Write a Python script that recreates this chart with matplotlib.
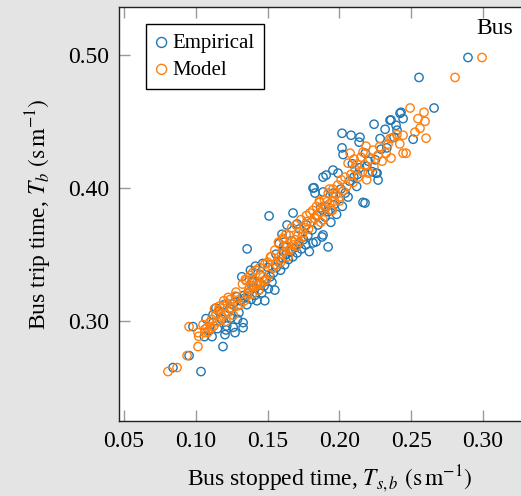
import matplotlib
matplotlib.use("Agg")
import matplotlib.pyplot as plt
from matplotlib.ticker import FormatStrFormatter

# Empirical bus data (stopped time, trip time) in s/m
emp_x = [0.0841, 0.0953, 0.0980, 0.1036, 0.1071, 0.1060, 0.1090,
         0.1113, 0.1189, 0.1203, 0.1273, 0.1329, 0.1329, 0.1150, 0.1180, 0.1215, 0.1245, 0.1260, 0.1120,
         0.1160, 0.1235, 0.1290, 0.1300, 0.1195, 0.1270, 0.1140, 0.1310, 0.1210,
         0.1340, 0.1355, 0.1370, 0.1385, 0.1398, 0.1410, 0.1425, 0.1440, 0.1450, 0.1460, 0.1475, 0.1490,
         0.1505, 0.1518, 0.1530, 0.1357, 0.1320, 0.1380, 0.1415, 0.1465, 0.1540, 0.1480, 0.1395, 0.1550,
         0.1560, 0.1575, 0.1590, 0.1605, 0.1618, 0.1630, 0.1645, 0.1660, 0.1675, 0.1690, 0.1705, 0.1720,
         0.1735, 0.1750, 0.1765, 0.1780, 0.1510, 0.1635, 0.1677, 0.1705, 0.1600, 0.1580, 0.1816, 0.1790,
         0.1823, 0.1830, 0.1886, 0.1955, 0.1886, 0.1907, 0.1955, 0.1990, 0.1816, 0.1809, 0.1879, 0.1921,
         0.1837, 0.1886, 0.1850, 0.1900, 0.1940, 0.1980, 0.2020, 0.2060, 0.1960, 0.2040, 0.1920, 0.1870,
         0.2164, 0.2178, 0.2269, 0.2255, 0.2018, 0.2025, 0.2081, 0.2018, 0.2137, 0.2143, 0.2241, 0.2100,
         0.2140, 0.2200, 0.2120, 0.2230, 0.2262, 0.2180, 0.2290, 0.2090, 0.2283,
         0.2318, 0.2352, 0.2359, 0.2394, 0.2401, 0.2422, 0.2429, 0.2443, 0.2513, 0.2659, 0.2330, 0.2380,
         0.1255, 0.1335, 0.1392, 0.1448, 0.1502, 0.1558, 0.1612, 0.1668, 0.1722, 0.1770, 0.1842, 0.1902,
         0.1958, 0.2010, 0.2070, 0.2125, 0.2190, 0.2250, 0.1285, 0.1610,
         0.2554, 0.2895]
emp_y = [0.2647, 0.2737, 0.2955, 0.2617, 0.3015, 0.2880, 0.2925,
         0.2880, 0.2805, 0.2895, 0.2910, 0.2947, 0.2985, 0.2940, 0.3010, 0.2960, 0.3020, 0.2950, 0.3045,
         0.3070, 0.3090, 0.3010, 0.3060, 0.3120, 0.3140, 0.3095, 0.3150, 0.2930,
         0.3170, 0.3120, 0.3210, 0.3160, 0.3245, 0.3190, 0.3150, 0.3230, 0.3280, 0.3210, 0.3260, 0.3310,
         0.3240, 0.3330, 0.3290, 0.3540, 0.3330, 0.3380, 0.3410, 0.3430, 0.3360, 0.3150, 0.3300, 0.3230,
         0.3400, 0.3445, 0.3380, 0.3470, 0.3420, 0.3500, 0.3460, 0.3520, 0.3480, 0.3550, 0.3510, 0.3580,
         0.3540, 0.3610, 0.3570, 0.3640, 0.3788, 0.3720, 0.3810, 0.3728, 0.3650, 0.3580, 0.3585, 0.3520,
         0.4000, 0.3960, 0.3968, 0.3960, 0.4080, 0.4095, 0.4133, 0.4110, 0.3998, 0.3683, 0.3630, 0.3555,
         0.3593, 0.3645, 0.3720, 0.3780, 0.3740, 0.3800, 0.3860, 0.3930, 0.3870, 0.3960, 0.3820, 0.3850,
         0.3890, 0.3885, 0.4058, 0.4110, 0.4300, 0.4250, 0.4395, 0.4410, 0.4343, 0.4380, 0.4478, 0.4080,
         0.4150, 0.4200, 0.4010, 0.4120, 0.4110, 0.4260, 0.4290, 0.4180, 0.4370,
         0.4440, 0.4508, 0.4510, 0.4470, 0.4433, 0.4560, 0.4568, 0.4520, 0.4365, 0.4600, 0.4300, 0.4380,
         0.3125, 0.3190, 0.3290, 0.3345, 0.3400, 0.3500, 0.3560, 0.3600, 0.3690, 0.3720, 0.3790, 0.3860,
         0.3935, 0.3990, 0.4050, 0.4100, 0.4160, 0.4210, 0.3180, 0.3520,
         0.4830, 0.4980]

# Model output
mod_x = [0.0806, 0.0869, 0.0939, 0.0953, 0.1015, 0.1015, 0.1020, 0.1050, 0.1064, 0.1085, 0.1078, 0.1095, 0.1062,
         0.1110, 0.1125, 0.1140, 0.1150, 0.1158, 0.1170, 0.1178, 0.1190, 0.1200, 0.1210, 0.1218, 0.1230,
         0.1240, 0.1248, 0.1262, 0.1275, 0.1288, 0.1130, 0.1165, 0.1105, 0.1195, 0.1225, 0.1280,
         0.1310, 0.1325, 0.1338, 0.1350, 0.1362, 0.1370, 0.1377, 0.1385, 0.1392, 0.1400, 0.1410, 0.1418,
         0.1425, 0.1438, 0.1445, 0.1455, 0.1468, 0.1480, 0.1490, 0.1500, 0.1512, 0.1525, 0.1538, 0.1345,
         0.1395, 0.1360, 0.1430, 0.1470, 0.1520,
         0.1550, 0.1562, 0.1575, 0.1588, 0.1598, 0.1610, 0.1620, 0.1628, 0.1635, 0.1642, 0.1650, 0.1660,
         0.1668, 0.1678, 0.1688, 0.1698, 0.1710, 0.1720, 0.1732, 0.1745, 0.1758, 0.1770, 0.1774, 0.1785,
         0.1795, 0.1605, 0.1655, 0.1700, 0.1740, 0.1590,
         0.1805, 0.1815, 0.1828, 0.1840, 0.1850, 0.1862, 0.1872, 0.1885, 0.1895, 0.1905, 0.1914, 0.1922,
         0.1932, 0.1942, 0.1955, 0.1965, 0.1975, 0.1988, 0.2000, 0.2012, 0.2025, 0.2038, 0.2050, 0.1870,
         0.1950, 0.2000, 0.1860, 0.1930,
         0.2074, 0.2102, 0.2123, 0.2150, 0.2178, 0.2213, 0.2164, 0.2060, 0.2185, 0.2234, 0.2269, 0.2297,
         0.2338, 0.2359, 0.2095, 0.2080, 0.2130, 0.2160, 0.2200, 0.2240, 0.2110, 0.2190, 0.2325, 0.2280,
         0.2352, 0.2366, 0.2443, 0.2464, 0.2492, 0.2526, 0.2547, 0.2589, 0.2596, 0.2561, 0.2603, 0.2443,
         0.2400, 0.2420,
         0.2805, 0.2993]
mod_y = [0.2617, 0.2647, 0.2737, 0.2955, 0.2805, 0.2910, 0.2882, 0.2970, 0.2910, 0.2912, 0.2948, 0.2985, 0.2935,
         0.3010, 0.2960, 0.3045, 0.2990, 0.3080, 0.3000, 0.3025, 0.3110, 0.3050, 0.2995, 0.3130, 0.3065,
         0.3160, 0.3095, 0.3040, 0.3185, 0.3110, 0.3090, 0.3110, 0.2940, 0.3150, 0.3175, 0.3215,
         0.3120, 0.3275, 0.3150, 0.3300, 0.3210, 0.3235, 0.3340, 0.3265, 0.3200, 0.3310, 0.3255, 0.3380,
         0.3285, 0.3230, 0.3400, 0.3275, 0.3330, 0.3425, 0.3305, 0.3440, 0.3350, 0.3480, 0.3395, 0.3310,
         0.3360, 0.3190, 0.3270, 0.3300, 0.3480,
         0.3530, 0.3420, 0.3590, 0.3460, 0.3500, 0.3610, 0.3520, 0.3650, 0.3560, 0.3480, 0.3640, 0.3545,
         0.3700, 0.3570, 0.3610, 0.3720, 0.3640, 0.3590, 0.3760, 0.3660, 0.3700, 0.3790, 0.3745, 0.3690,
         0.3810, 0.3620, 0.3530, 0.3560, 0.3630, 0.3440,
         0.3740, 0.3830, 0.3770, 0.3860, 0.3795, 0.3890, 0.3820, 0.3760, 0.3910, 0.3850, 0.3895, 0.3960,
         0.3880, 0.3830, 0.3990, 0.3900, 0.3950, 0.4020, 0.3930, 0.4060, 0.3975, 0.4080, 0.4010, 0.3740,
         0.3830, 0.3900, 0.3900, 0.3990,
         0.4260, 0.4215, 0.4178, 0.4230, 0.4170, 0.4215, 0.4268, 0.4185, 0.4313, 0.4283, 0.4245, 0.4200,
         0.4328, 0.4223, 0.4040, 0.4100, 0.4080, 0.4120, 0.4110, 0.4160, 0.4140, 0.4060, 0.4260, 0.4310,
         0.4370, 0.4373, 0.4395, 0.4260, 0.4600, 0.4418, 0.4520, 0.4568, 0.4500, 0.4448, 0.4373, 0.4260,
         0.4400, 0.4330,
         0.4830, 0.4980]

x_ticks = [0.05, 0.10, 0.15, 0.20, 0.25, 0.30]
y_ticks = [0.30, 0.40, 0.50]

plt.rcParams['font.family'] = ['Liberation Serif', 'DejaVu Serif']
plt.rcParams['mathtext.fontset'] = 'stix'

fig = plt.figure(figsize=(5.21, 4.96), dpi=100, facecolor='#e4e4e4')
ax = fig.add_axes([119 / 521, 75 / 496, 421.5 / 521, 414 / 496])
ax.set_facecolor('white')

ax.scatter(emp_x, emp_y, s=36, facecolors='none', edgecolors='#1f77b4', linewidths=1.0, label='Empirical')
ax.scatter(mod_x, mod_y, s=36, facecolors='none', edgecolors='#ff7f0e', linewidths=1.0, label='Model')

ax.set_xlim(0.0465, 0.34)
ax.set_ylim(0.2245, 0.536)
ax.set_xticks(x_ticks)
ax.set_yticks(y_ticks)
ax.xaxis.set_major_formatter(FormatStrFormatter('%.2f'))
ax.yaxis.set_major_formatter(FormatStrFormatter('%.2f'))
ax.tick_params(direction='in', length=8, width=1, color='#999999', labelsize=17,
               top=True, right=False, pad=7)
for side in ['left', 'bottom', 'top', 'right']:
    ax.spines[side].set_color('#222222')
    ax.spines[side].set_linewidth(1.0)

ax.set_xlabel(r'Bus stopped time, $T_{s,b}$ $(\mathrm{s\,m^{-1}})$', fontsize=17, labelpad=8)
ax.set_ylabel(r'Bus trip time, $T_b$ $(\mathrm{s\,m^{-1}})$', fontsize=17, labelpad=10)

leg = ax.legend(loc='upper left', bbox_to_anchor=(0.064, 0.959), borderaxespad=0,
                fontsize=15, fancybox=False, edgecolor='black', framealpha=1, markerscale=1.2,
                handlelength=0.6, handletextpad=0.2, borderpad=0.45, labelspacing=0.35)
leg.get_frame().set_linewidth(1.0)

fig.text(513 / 521, 1 - 34 / 496, 'Bus', fontsize=17, ha='right', va='baseline')

fig.savefig('out.png', dpi=100, facecolor=fig.get_facecolor())
